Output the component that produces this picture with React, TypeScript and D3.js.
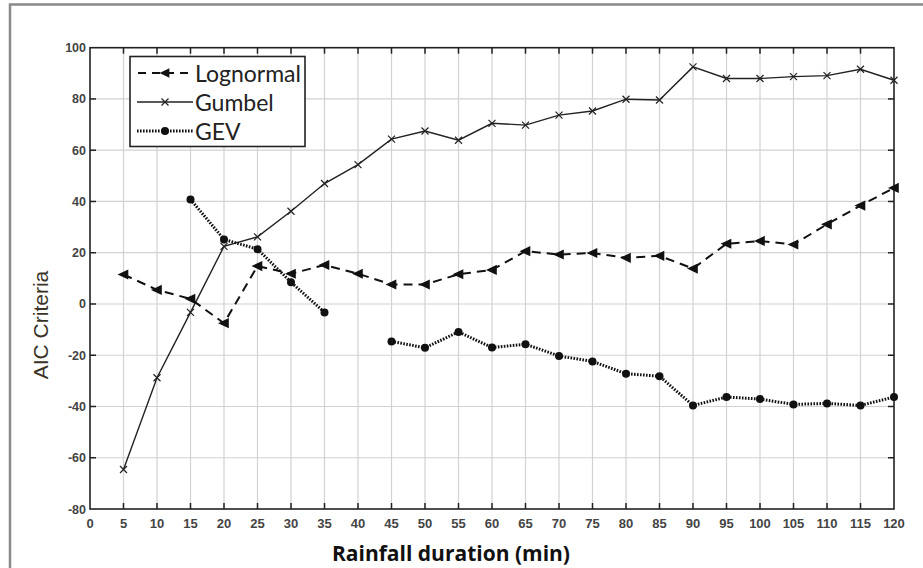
import React from "react";
import * as d3 from "d3";

// Rainfall durations (min) and AIC values per distribution
const durations = [5, 10, 15, 20, 25, 30, 35, 40, 45, 50, 55, 60, 65, 70, 75, 80, 85, 90, 95, 100, 105, 110, 115, 120];
const lognormal = [11.5, 5.5, 2, -7.5, 14.8, 11.8, 15.2, 11.8, 7.6, 7.6, 11.6, 13.3, 20.6, 19.3, 19.9, 18, 18.8, 13.8, 23.5, 24.6, 23.2, 31.1, 38.4, 45.3];
const gumbel = [-64.6, -28.8, -3.3, 22.5, 26.2, 36.2, 47, 54.4, 64.3, 67.5, 63.9, 70.5, 69.8, 73.7, 75.3, 79.9, 79.6, 92.5, 88, 88, 88.7, 89.1, 91.6, 87.3];
// GEV has no value at 5, 10 and 40 min
const gev: (number | null)[] = [null, null, 40.8, 25.2, 21.4, 8.5, -3.3, null, -14.6, -17.1, -10.9, -17, -15.7, -20.3, -22.4, -27.2, -28.2, -39.6, -36.3, -37.1, -39.2, -38.8, -39.6, -36.3];

const xTicks = d3.range(0, 121, 5);
const yTicks = d3.range(-80, 101, 20);
const legendLabels = ["Lognormal", "Gumbel", "GEV"];

const W = 923;
const H = 568;
const left = 90, right = 894, top = 47.7, bottom = 509;

export default function App() {
  const x = d3.scaleLinear().domain([0, 120]).range([left, right]);
  const y = d3.scaleLinear().domain([-80, 100]).range([bottom, top]);

  const line = d3
    .line<[number, number | null]>()
    .defined((d) => d[1] !== null)
    .x((d) => x(d[0]))
    .y((d) => y(d[1] as number));

  const lnPts = durations.map((d, i) => [d, lognormal[i]] as [number, number]);
  const gbPts = durations.map((d, i) => [d, gumbel[i]] as [number, number]);
  const gvPts = durations.map((d, i) => [d, gev[i]] as [number, number | null]);

  const tri = (cx: number, cy: number, s: number) =>
    `M${cx - s},${cy} L${cx + s * 0.8},${cy - s * 0.85} L${cx + s * 0.8},${cy + s * 0.85} Z`;
  const cross = (cx: number, cy: number, s: number) =>
    `M${cx - s},${cy - s} L${cx + s},${cy + s} M${cx - s},${cy + s} L${cx + s},${cy - s}`;

  const tickFont = "'Liberation Sans', Arial, sans-serif";
  const legendY = [73, 102, 131];

  return (
    <svg
      width={W}
      height={H}
      viewBox={`0 0 ${W} ${H}`}
      style={{ position: "absolute", left: 0, top: 0, display: "block", background: "#fff" }}
    >
      {/* outer frame */}
      <path d={`M10,${H} L10,4.5 L${W},4.5`} fill="none" stroke="#8a8a8a" strokeWidth={2.5} />

      {/* grid */}
      <g stroke="#d2d2d2" strokeWidth={1.2}>
        {xTicks.slice(1, -1).map((t) => (
          <line key={"gx" + t} x1={x(t)} x2={x(t)} y1={top} y2={bottom} />
        ))}
        {yTicks.slice(1, -1).map((t) => (
          <line key={"gy" + t} x1={left} x2={right} y1={y(t)} y2={y(t)} />
        ))}
      </g>

      {/* inward ticks on all four sides */}
      <g stroke="#222" strokeWidth={1.5}>
        {xTicks.slice(1, -1).map((t) => (
          <g key={"tx" + t}>
            <line x1={x(t)} x2={x(t)} y1={bottom} y2={bottom - 6} />
            <line x1={x(t)} x2={x(t)} y1={top} y2={top + 6} />
          </g>
        ))}
        {yTicks.slice(1, -1).map((t) => (
          <g key={"ty" + t}>
            <line x1={left} x2={left + 6} y1={y(t)} y2={y(t)} />
            <line x1={right} x2={right - 6} y1={y(t)} y2={y(t)} />
          </g>
        ))}
      </g>
      <rect x={left} y={top} width={right - left} height={bottom - top} fill="none" stroke="#222" strokeWidth={1.6} />

      {/* tick labels */}
      <g fontFamily={tickFont} fontSize={13} fill="#444" fontWeight="bold">
        {xTicks.map((t) => (
          <text key={"lx" + t} x={x(t)} y={bottom + 19} textAnchor="middle">
            {t}
          </text>
        ))}
        {yTicks.map((t) => (
          <text key={"ly" + t} x={left - 4} y={y(t) + 4.5} textAnchor="end" fontSize={12.5}>
            {t}
          </text>
        ))}
      </g>

      {/* axis titles */}
      <text
        x={451}
        y={561}
        textAnchor="middle"
        fontFamily="'Open Sans', sans-serif"
        fontWeight="bold"
        fontSize={21}
        fill="#111"
      >
        Rainfall duration (min)
      </text>
      <text
        transform="translate(48,325) rotate(-90)"
        textAnchor="middle"
        fontFamily="'Liberation Sans', Arial, sans-serif"
        fontSize={21}
        fill="#3a3428"
      >
        AIC Criteria
      </text>

      {/* Gumbel */}
      <path d={line(gbPts) ?? ""} fill="none" stroke="#222" strokeWidth={1.4} />
      {gbPts.map(([d, v]) => (
        <path key={"gm" + d} d={cross(x(d), y(v), 3.5)} stroke="#222" strokeWidth={1.2} />
      ))}

      {/* Lognormal */}
      <path d={line(lnPts) ?? ""} fill="none" stroke="#111" strokeWidth={2} strokeDasharray="9,6" />
      {lnPts.map(([d, v]) => (
        <path key={"lm" + d} d={tri(x(d), y(v), 6)} fill="#111" />
      ))}

      {/* GEV */}
      <path d={line(gvPts) ?? ""} fill="none" stroke="#111" strokeWidth={3} strokeDasharray="1.6,1.4" />
      {gvPts
        .filter((p) => p[1] !== null)
        .map(([d, v]) => (
          <circle key={"vm" + d} cx={x(d)} cy={y(v as number)} r={4} fill="#111" />
        ))}

      {/* legend */}
      <rect x={130} y={56.5} width={175} height={90} fill="#fff" stroke="#222" strokeWidth={1.6} />
      <g>
        <line x1={137} x2={193} y1={legendY[0]} y2={legendY[0]} stroke="#111" strokeWidth={2} strokeDasharray="8,6" strokeDashoffset={-1} />
        <path d={tri(165, legendY[0], 5.5)} fill="#111" />
        <line x1={137} x2={193} y1={legendY[1]} y2={legendY[1]} stroke="#222" strokeWidth={1.4} />
        <path d={cross(165, legendY[1], 3.5)} stroke="#222" strokeWidth={1.2} />
        <line x1={137} x2={193} y1={legendY[2]} y2={legendY[2]} stroke="#111" strokeWidth={3} strokeDasharray="1.6,1.4" />
        <circle cx={165} cy={legendY[2]} r={4} fill="#111" />
      </g>
      <g fontFamily="Lato, sans-serif" fontSize={23} fill="#222">
        {legendLabels.map((l, i) => (
          <text key={l} x={195} y={legendY[i] + 8.5}>
            {l}
          </text>
        ))}
      </g>
    </svg>
  );
}
